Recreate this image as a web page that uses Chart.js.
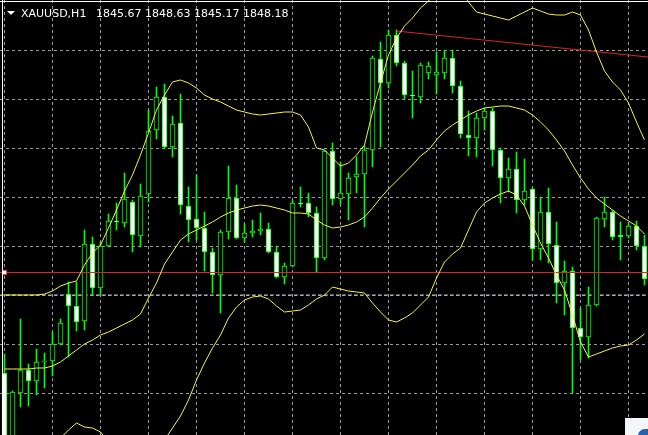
<!DOCTYPE html>
<html lang="en">
<head>
  <meta charset="UTF-8">
  <title>XAUUSD,H1</title>
  <script src="https://cdn.jsdelivr.net/npm/chart.js@4"></script>
  <style>
    html, body { margin: 0; padding: 0; background: #000; }
    #chart { display: block; }
  </style>
</head>
<body>
  <canvas id="chart" width="648" height="435"></canvas>

  <script>
    // XAUUSD H1 candles (oldest first)
    const symbolTitle = 'XAUUSD,H1';
    const headerQuote = ['1845.67', '1848.63', '1845.17', '1848.18'];

    const opens = [
      1846.62, 1845.28, 1846.22, 1846.68, 1846.46, 1846.84, 1846.86, 1847.20, 1848.20, 1847.96,
      1847.66, 1849.20, 1848.32, 1849.16, 1849.66, 1849.62, 1850.04, 1849.36, 1850.20, 1851.48,
      1852.14, 1851.14, 1851.62, 1849.96, 1849.70, 1849.52, 1849.04, 1848.58, 1849.44, 1850.12,
      1849.32, 1849.42, 1849.46, 1849.50, 1849.04, 1848.54, 1848.76, 1850.02, 1850.02, 1849.82,
      1848.92, 1851.06, 1850.10, 1850.20, 1850.54, 1850.60, 1851.08, 1852.90, 1852.42, 1853.38,
      1852.82, 1852.18, 1852.14, 1852.62, 1852.58, 1852.62, 1852.92, 1852.36, 1851.38, 1851.32,
      1851.72, 1851.86, 1851.08, 1850.52, 1850.70, 1850.08, 1850.30, 1849.10, 1849.84, 1849.18,
      1848.42, 1848.66, 1847.52, 1847.34, 1847.98, 1849.70, 1849.84, 1849.38, 1849.36, 1849.56, 1849.16
    ];
    const highs = [
      1847.00, 1846.26, 1847.70, 1846.80, 1847.10, 1847.02, 1847.44, 1847.70, 1848.44, 1848.44,
      1849.48, 1849.34, 1849.24, 1849.80, 1850.02, 1850.62, 1850.08, 1850.40, 1851.88, 1852.34,
      1852.40, 1851.76, 1852.20, 1850.34, 1850.58, 1849.84, 1849.12, 1849.48, 1850.76, 1850.38,
      1849.60, 1849.68, 1849.82, 1849.62, 1849.16, 1848.82, 1850.08, 1850.34, 1850.22, 1849.94,
      1851.08, 1851.22, 1850.84, 1850.62, 1850.94, 1851.16, 1852.96, 1853.24, 1853.48, 1853.48,
      1852.86, 1852.66, 1852.82, 1852.84, 1853.04, 1853.08, 1853.08, 1852.46, 1851.86, 1851.82,
      1851.92, 1851.92, 1851.12, 1850.92, 1851.04, 1850.90, 1850.32, 1850.14, 1850.32, 1849.64,
      1848.86, 1848.74, 1847.92, 1848.34, 1849.74, 1850.14, 1849.88, 1849.64, 1849.62, 1849.66, 1849.38
    ];
    const lows = [
      1845.08, 1845.18, 1845.94, 1845.96, 1846.18, 1846.32, 1846.56, 1847.18, 1846.94, 1847.46,
      1847.48, 1848.18, 1848.18, 1849.14, 1849.48, 1849.54, 1849.04, 1849.14, 1850.04, 1851.30,
      1851.10, 1850.94, 1849.80, 1849.24, 1849.28, 1848.66, 1848.22, 1847.82, 1849.30, 1849.30,
      1849.24, 1849.34, 1849.38, 1849.02, 1848.52, 1848.40, 1848.74, 1849.94, 1849.74, 1848.64,
      1848.88, 1849.98, 1850.00, 1849.68, 1850.22, 1849.54, 1850.74, 1851.14, 1852.32, 1852.76,
      1852.10, 1851.72, 1852.02, 1852.50, 1852.20, 1852.50, 1852.22, 1851.32, 1850.96, 1850.94,
      1851.48, 1850.76, 1850.02, 1850.24, 1849.82, 1849.98, 1848.88, 1848.88, 1848.82, 1848.02,
      1847.78, 1846.22, 1846.88, 1846.92, 1847.96, 1849.54, 1849.28, 1848.88, 1849.32, 1849.08, 1848.38
    ];
    const closes = [
      1845.18, 1846.24, 1846.68, 1846.46, 1846.84, 1846.86, 1847.20, 1847.62, 1847.96, 1847.64,
      1849.20, 1848.32, 1849.16, 1849.66, 1849.64, 1850.10, 1849.38, 1850.16, 1851.46, 1852.14,
      1851.14, 1851.60, 1849.98, 1849.68, 1849.52, 1849.04, 1848.58, 1849.44, 1850.12, 1849.32,
      1849.42, 1849.46, 1849.50, 1849.04, 1848.54, 1848.76, 1850.02, 1850.00, 1849.82, 1848.92,
      1851.06, 1850.10, 1850.22, 1850.52, 1850.60, 1851.08, 1852.92, 1852.42, 1853.38, 1852.82,
      1852.18, 1852.16, 1852.78, 1852.76, 1852.64, 1852.92, 1852.36, 1851.40, 1851.32, 1851.72,
      1851.86, 1851.08, 1850.52, 1850.70, 1850.08, 1850.26, 1849.10, 1849.84, 1849.20, 1848.42,
      1848.66, 1847.52, 1847.34, 1847.98, 1849.72, 1849.84, 1849.34, 1849.34, 1849.56, 1849.16, 1848.50
    ];

    // Bollinger Bands
    const bbUpper = [
      1848.18, 1848.18, 1848.18, 1848.18, 1848.18, 1848.20, 1848.26, 1848.36, 1848.42, 1848.46,
      1848.78, 1849.02, 1849.18, 1849.52, 1849.88, 1850.26, 1850.58, 1850.98, 1851.42, 1851.88,
      1852.18, 1852.44, 1852.48, 1852.42, 1852.32, 1852.18, 1852.10, 1852.04, 1851.96, 1851.88,
      1851.84, 1851.80, 1851.78, 1851.80, 1851.82, 1851.84, 1851.84, 1851.78, 1851.54, 1851.12,
      1851.08, 1850.92, 1850.76, 1850.82, 1850.98, 1851.18, 1851.84, 1852.42, 1852.98, 1853.32,
      1853.56, 1853.72, 1853.92, 1854.06, 1854.24, 1854.36, 1854.44, 1854.32, 1854.04, 1853.84,
      1853.80, 1853.76, 1853.72, 1853.68, 1853.76, 1853.84, 1853.92, 1853.86, 1853.80, 1853.78,
      1853.78, 1853.84, 1853.78, 1853.48, 1853.04, 1852.66, 1852.44, 1852.28, 1852.02, 1851.64, 1851.28
    ];
    const bbMiddle = [
      1846.70, 1846.70, 1846.70, 1846.70, 1846.72, 1846.72, 1846.76, 1846.84, 1846.96, 1847.08,
      1847.20, 1847.28, 1847.38, 1847.44, 1847.52, 1847.60, 1847.68, 1847.80, 1848.12, 1848.42,
      1848.80, 1849.04, 1849.28, 1849.40, 1849.48, 1849.56, 1849.64, 1849.74, 1849.82, 1849.88,
      1849.92, 1849.96, 1849.98, 1849.96, 1849.92, 1849.88, 1849.82, 1849.82, 1849.80, 1849.68,
      1849.58, 1849.52, 1849.54, 1849.58, 1849.64, 1849.74, 1849.92, 1850.12, 1850.30, 1850.46,
      1850.62, 1850.78, 1850.96, 1851.08, 1851.28, 1851.46, 1851.58, 1851.68, 1851.78, 1851.86,
      1851.92, 1851.94, 1851.96, 1851.96, 1851.92, 1851.88, 1851.78, 1851.64, 1851.48, 1851.28,
      1851.06, 1850.78, 1850.52, 1850.30, 1850.12, 1850.00, 1849.88, 1849.76, 1849.66, 1849.56, 1849.40
    ];
    const bbLower = [
      1844.68, 1844.78, 1844.88, 1844.98, 1845.08, 1845.14, 1845.18, 1845.32, 1845.48, 1845.62,
      1845.54, 1845.52, 1845.44, 1845.24, 1845.12, 1845.04, 1844.98, 1844.98, 1845.04, 1845.14,
      1845.28, 1845.52, 1845.76, 1846.08, 1846.48, 1846.82, 1847.12, 1847.38, 1847.72, 1847.94,
      1848.08, 1848.14, 1848.16, 1848.10, 1847.96, 1847.84, 1847.86, 1847.88, 1847.98, 1848.10,
      1848.18, 1848.34, 1848.30, 1848.26, 1848.24, 1848.22, 1848.02, 1847.84, 1847.68, 1847.64,
      1847.72, 1847.82, 1847.98, 1848.14, 1848.52, 1848.84, 1849.00, 1849.12, 1849.48, 1849.84,
      1850.02, 1850.12, 1850.20, 1850.26, 1850.18, 1849.96, 1849.58, 1849.22, 1848.92, 1848.58,
      1848.28, 1847.78, 1847.24, 1846.94, 1847.00, 1847.06, 1847.12, 1847.16, 1847.18, 1847.28, 1847.40
    ];

    const askPrice = 1848.63;
    const bidPrice = 1848.18;
    // trend line drawn from the swing high (bar index, price)
    const trendX = [49, 81];
    const trendY = [1853.46, 1852.93];

    // grid ticks (bar index / price)
    const xGridTicks = [0, 6, 12, 18, 24, 30, 36, 42, 48, 54, 60, 66, 72, 78];
    const yGridTicks = [1853.07, 1852.09, 1851.11, 1850.13, 1849.15, 1848.17, 1847.19, 1846.21];

    const xMin = -0.5625, xMax = 80.4375;
    const yMin = 1845.38, yMax = 1854.08;

    const bars = opens.map((o, i) => i);
    const isBear = i => closes[i] < opens[i];
    const line = arr => arr.map((v, i) => ({ x: i, y: v }));

    const mtFrame = {
      id: 'mtFrame',
      beforeDraw(chart) {
        const c = chart.ctx;
        c.save();
        c.fillStyle = '#000';
        c.fillRect(0, 0, chart.width, chart.height);
        c.restore();
      },
      afterDraw(chart) {
        const c = chart.ctx;
        c.save();
        // window border
        c.fillStyle = '#ffffff';
        c.fillRect(0, 1, chart.width, 1);
        c.fillRect(2, 0, 1, chart.height);
        // header
        c.beginPath();
        c.moveTo(7, 11); c.lineTo(15, 11); c.lineTo(11, 15); c.closePath();
        c.fill();
        c.font = '11px "DejaVu Sans"';
        c.textBaseline = 'alphabetic';
        c.fillText(symbolTitle, 21, 17);
        c.fillText(headerQuote.join(' '), 96, 17);
        // corner of a panel peeking in at the bottom right
        c.fillStyle = '#f4f6f8';
        c.fillRect(625, 418, 23, 17);
        c.fillStyle = '#2a62a8';
        c.beginPath();
        c.arc(645, 436, 7, Math.PI, 1.5 * Math.PI);
        c.lineTo(648, 429); c.lineTo(648, 435); c.closePath();
        c.fill();
        c.restore();
      }
    };

    new Chart(document.getElementById('chart'), {
      type: 'bar',
      data: {
        datasets: [
          {
            label: 'Bands upper', type: 'line', data: line(bbUpper),
            borderColor: '#f4f43a', borderWidth: 1, pointRadius: 0, tension: 0, order: -2
          },
          {
            label: 'Bands middle', type: 'line', data: line(bbMiddle),
            borderColor: '#f4f43a', borderWidth: 1, pointRadius: 0, tension: 0, order: -2
          },
          {
            label: 'Bands lower', type: 'line', data: line(bbLower),
            borderColor: '#f4f43a', borderWidth: 1, pointRadius: 0, tension: 0, order: -2
          },
          {
            label: 'Ask', type: 'line',
            data: [{ x: xMin, y: askPrice }, { x: 0, y: askPrice }, { x: xMax, y: askPrice }],
            borderColor: '#d8242a', borderWidth: 1, tension: 0, order: -1,
            pointStyle: 'rect',
            pointRadius: ctx => ctx.dataIndex === 1 ? 3.2 : 0,
            pointBackgroundColor: '#ffffff', pointBorderColor: '#d8242a', pointBorderWidth: 1
          },
          {
            label: 'Bid', type: 'line',
            data: [{ x: xMin, y: bidPrice }, { x: xMax, y: bidPrice }],
            borderColor: '#b4b8c4', borderWidth: 1, borderDash: [4, 2], pointRadius: 0, order: 3
          },
          {
            label: 'Trend', type: 'line',
            data: trendX.map((x, i) => ({ x, y: trendY[i] })),
            borderColor: '#d8242a', borderWidth: 1, pointRadius: 0, tension: 0, order: -1
          },
          {
            label: 'Bodies',
            data: bars.map(i => ({ x: i, y: [opens[i], closes[i]] })),
            backgroundColor: bars.map(i => isBear(i) ? '#ffffff' : '#000000'),
            borderColor: '#00ff00', borderWidth: 1, borderSkipped: false,
            barThickness: 5, minBarLength: 1, grouped: false, order: 0
          },
          {
            label: 'Wicks',
            data: bars.map(i => ({ x: i, y: [lows[i], highs[i]] })),
            backgroundColor: '#00ff00', borderWidth: 0,
            barThickness: 1, grouped: false, order: 1
          }
        ]
      },
      options: {
        responsive: false,
        devicePixelRatio: 1,
        animation: false,
        layout: { padding: 0 },
        plugins: { legend: { display: false }, tooltip: { enabled: false } },
        scales: {
          x: {
            type: 'linear', min: xMin, max: xMax, offset: false,
            afterBuildTicks: s => { s.ticks = xGridTicks.map(v => ({ value: v })); },
            ticks: { display: false },
            border: { display: false, dash: [3, 3] },
            grid: { offset: false, drawTicks: false, color: '#9c9c9c' }
          },
          y: {
            min: yMin, max: yMax,
            afterBuildTicks: s => { s.ticks = yGridTicks.map(v => ({ value: v })); },
            ticks: { display: false },
            border: { display: false, dash: [3, 3] },
            grid: { drawTicks: false, color: '#9c9c9c' }
          }
        }
      },
      plugins: [mtFrame]
    });
  </script>
</body>
</html>
